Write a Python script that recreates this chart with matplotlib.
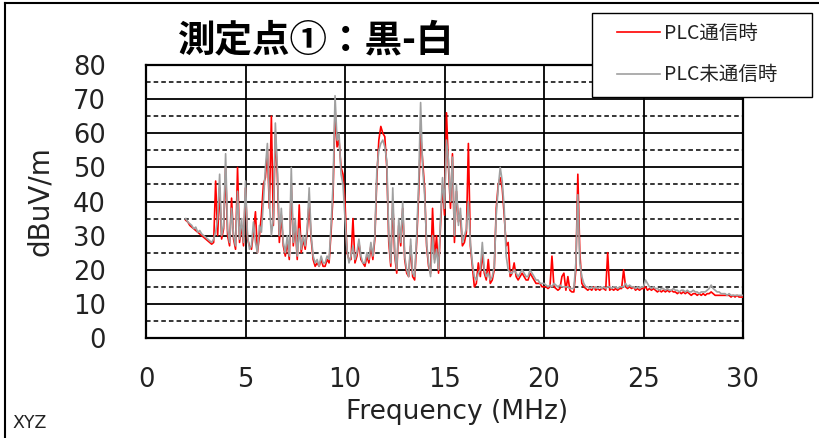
import numpy as np
import matplotlib
matplotlib.use("Agg")
import matplotlib.pyplot as plt
from matplotlib.lines import Line2D
from matplotlib.patches import Rectangle

plt.rcParams['font.family'] = ['DejaVu Sans', 'Noto Sans CJK JP']

# Frequency grid (MHz), 2.0 .. 30.0 in 0.1 steps
freq = np.round(np.arange(2.0, 30.05, 0.1), 1)

# PLC未通信時 (gray), one row per MHz
gray_vals = [
    35, 34, 33.5, 33, 32, 32.5, 31, 31.5, 30.5, 30,          # 2
    29.5, 29, 28.5, 28, 29, 31, 35, 48, 30, 33,              # 3
    54, 32, 28, 38, 30, 27, 43, 29, 35, 28,                  # 4
    46, 30, 26, 27, 34, 28, 25, 33, 31, 40,                  # 5
    50, 57, 40, 30, 35, 63, 50, 30, 38, 28,                  # 6
    25, 30, 24, 50, 28, 35, 24, 32, 26, 30,                  # 7
    27, 32, 44, 30, 24, 22, 23, 21, 24, 22,                  # 8
    22, 24, 23, 33, 45, 71, 58, 60, 48, 45,                  # 9
    35, 26, 22, 24, 27, 23, 25, 29, 24, 22,                  # 10
    22, 25, 23, 28, 24, 30, 49, 55, 57, 58,                  # 11
    56, 52, 30, 22, 44, 25, 20, 35, 28, 40,                  # 12
    24, 20, 18, 29, 19, 18, 30, 45, 69, 50,                  # 13
    42, 28, 22, 18, 30, 22, 26, 20, 35, 47,                  # 14
    38, 58, 52, 40, 53, 30, 45, 33, 38, 28,                  # 15
    30, 32, 40, 28, 22, 18, 17, 19, 20, 28,                  # 16
    20, 18, 19, 17, 18, 21, 36, 44, 50, 46,                  # 17
    38, 24, 20, 19, 19, 20, 19, 18, 19, 20,                  # 18
    19, 18, 18, 20, 19, 18, 17, 17, 16, 16,                  # 19
    16, 15.5, 15, 15.5, 15, 16, 15.5, 15, 15.5, 15,          # 20
    15, 15, 15, 14.5, 14.5, 14.5, 22, 42, 22, 18,            # 21
    16, 15, 15, 14.5, 15, 14.5, 15, 14.5, 15, 14.5,          # 22
    15, 14.5, 15, 15, 14.5, 15, 15, 14.5, 15, 15,            # 23
    15, 16, 15, 15.5, 15, 15, 14.5, 15, 14.5, 15,            # 24
    15, 17, 16, 15, 14.5, 15, 14.5, 14.5, 14, 14.5,          # 25
    14.5, 14, 14.5, 14, 14, 14.5, 14, 14, 13.5, 14,          # 26
    14, 13.5, 14, 13.5, 13.5, 14, 13.5, 13.5, 13, 13.5,      # 27
    13.5, 13.5, 14, 14.5, 15.5, 14.5, 14, 13.5, 13.5, 13,    # 28
    13, 13, 12.5, 13, 12.5, 12.5, 12.5, 12.5, 12.5, 12.5,    # 29
    12.5,                                                    # 30
]

# PLC通信時 (red)
red_vals = [
    34.5, 34, 33, 32.5, 32, 31.5, 31, 30.5, 30, 29.5,        # 2
    29, 28.5, 28, 27.5, 28, 46, 30, 44, 29, 32,              # 3
    50, 30, 27, 41, 29, 26, 50, 28, 33, 27,                  # 4
    44, 29, 27, 26, 31, 37, 25, 30, 36, 45,                  # 5
    47, 55, 38, 65, 33, 60, 48, 28, 36, 27,                  # 6
    24, 28, 23, 45, 27, 33, 23, 39, 25, 29,                  # 7
    26, 31, 40, 29, 23, 21, 22, 21, 23, 21,                  # 8
    21, 23, 22, 31, 42, 67, 56, 58, 50, 48,                  # 9
    40, 25, 23, 23, 35, 22, 24, 28, 23, 22,                  # 10
    21, 24, 22, 27, 23, 29, 47, 58, 62, 60,                  # 11
    59, 50, 28, 21, 40, 24, 19, 33, 27, 38,                  # 12
    23, 19, 18, 27, 18, 17, 28, 42, 60, 52,                  # 13
    44, 27, 21, 19, 38, 23, 30, 19, 33, 45,                  # 14
    36, 66, 50, 38, 54, 28, 43, 34, 36, 27,                  # 15
    28, 31, 57, 27, 21, 15, 16, 22, 18, 25,                  # 16
    19, 17, 23, 16, 17, 20, 38, 45, 47, 44,                  # 17
    36, 27, 28, 18, 19, 22, 18, 17, 18, 19,                  # 18
    18, 17, 17, 19, 18, 17, 16, 16, 16, 15,                  # 19
    15, 15, 14.5, 15, 24, 15, 14.5, 14, 14.5, 18,            # 20
    19, 14, 18, 14, 13.5, 13.5, 20, 48, 25, 16,              # 21
    15, 14.5, 14, 14.5, 14, 15, 14, 14.5, 14, 14.5,          # 22
    14.5, 14, 25, 14, 14.5, 14, 14.5, 14, 14.5, 14.5,        # 23
    20, 15, 14.5, 15, 14.5, 15, 14, 14.5, 14, 14.5,          # 24
    14.5, 15, 14, 14.5, 14, 14.5, 14, 13.5, 14, 13.5,        # 25
    14, 13.5, 14, 13.5, 14, 13.5, 13.5, 13, 13.5, 13,        # 26
    13.5, 13, 13.5, 13, 12.5, 13, 13, 12.5, 13, 12.5,        # 27
    13, 12.5, 13, 13, 13.5, 13, 12.5, 12.5, 12.5, 12.5,      # 28
    12.5, 12.5, 12.5, 12.5, 12, 12.5, 12, 12.5, 12, 12,      # 29
    12,                                                      # 30
]

x_ticks = [0, 5, 10, 15, 20, 25, 30]
y_ticks = [0, 10, 20, 30, 40, 50, 60, 70, 80]
title = "測定点①：黒-白"
label_on = "PLC通信時"
label_off = "PLC未通信時"

W, H = 819, 438
fig = plt.figure(figsize=(W / 100, H / 100), dpi=100)
ax = fig.add_axes([146 / W, 1 - 338 / H, (743 - 146) / W, (338 - 65) / H])

l1, = ax.plot(freq, red_vals, color='#ff0000', lw=1.2, label=label_on, zorder=3)
l2, = ax.plot(freq, gray_vals, color='#a0a0a0', lw=1.2, label=label_off, zorder=4)

ax.set_xlim(0, 30)
ax.set_ylim(0, 80)
ax.set_xticks(x_ticks)
ax.set_yticks(y_ticks)
ax.set_yticks([5, 15, 25, 35, 45, 55, 65, 75], minor=True)
ax.grid(which='major', axis='both', color='black', lw=1.3, zorder=1)
ax.grid(which='minor', axis='y', color='black', lw=1.1, ls=(0, (3, 2)), zorder=1)
ax.set_axisbelow(True)
for s in ax.spines.values():
    s.set_linewidth(1.6)
    s.set_color('black')
ax.tick_params(which='both', length=0)
ax.tick_params(axis='y', pad=29, labelsize=18.5, colors='#222222')
ax.tick_params(axis='x', pad=21, labelsize=18.5, colors='#222222')

fig.text(40 / W, 1 - 201 / H, "dBuV/m", rotation=90, ha='center', va='center',
         fontsize=20, color='#222222')
fig.text(457 / W, 1 - 412 / H, "Frequency (MHz)", ha='center', va='center',
         fontsize=19, color='#222222')
fig.text(316 / W, 1 - 40 / H, title, ha='center', va='center', fontsize=27,
         fontweight='bold', family=['Noto Sans CJK JP', 'DejaVu Sans'])
fig.text(12 / W, 1 - 423 / H, "XYZ", ha='left', va='center', fontsize=12.5,
         color='#222222')

# legend frame drawn separately to match the reference box size
fig.add_artist(Rectangle((592 / W, 1 - 97 / H), (812 - 592) / W, (97 - 13) / H,
                         transform=fig.transFigure, facecolor='white',
                         edgecolor='black', lw=1.0, zorder=5))
leg = fig.legend(handles=[l1, l2], loc='upper left',
                 bbox_to_anchor=(617 / W, 1 - 23 / H), frameon=False,
                 prop={'family': ['Noto Sans CJK JP', 'DejaVu Sans'], 'size': 14},
                 handlelength=2.2, handletextpad=0.2, labelspacing=1.05,
                 borderpad=0, borderaxespad=0)
leg.set_zorder(6)
for t in leg.get_texts():
    t.set_color('#222222')

# outer chart border
fig.add_artist(Line2D([5 / W, 1], [1 - 3 / H, 1 - 3 / H], color='black', lw=1.5))
fig.add_artist(Line2D([5 / W, 5 / W], [0, 1 - 3 / H], color='black', lw=1.5))

fig.savefig("out.png", dpi=100)
